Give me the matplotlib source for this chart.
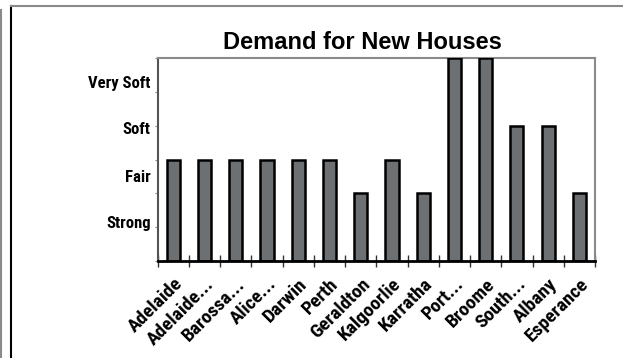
import matplotlib
matplotlib.use('Agg')
import matplotlib.pyplot as plt
import numpy as np
from matplotlib.lines import Line2D
from matplotlib.ticker import FixedLocator

# --- Chart data ---
towns = ["Adelaide", "Adelaide...", "Barossa...", "Alice...", "Darwin", "Perth",
         "Geraldton", "Kalgoorlie", "Karratha", "Port...", "Broome", "South...",
         "Albany", "Esperance"]
demand = [3, 3, 3, 3, 3, 3, 2, 3, 2, 6, 6, 4, 4, 2]
rating_labels = ["Strong", "Fair", "Soft", "Very Soft"]

# Excel spreads the rating labels evenly over the axis, not on the gridline ticks
label_pos = [1.16, 2.53, 3.94, 5.29]

plt.rcParams['font.family'] = ['Roboto Condensed', 'DejaVu Sans']

fig = plt.figure(figsize=(6.23, 3.58), dpi=100)
ax = fig.add_axes([0.2531, 0.271, 0.702, 0.566])

x = np.arange(len(towns))
ax.bar(x, demand, width=0.42, color='#6d7073', edgecolor='black', linewidth=1.8, zorder=3)

ax.set_xlim(-0.5, len(towns) - 0.5)
ax.set_ylim(0, 6)

# x axis: ticks sit between categories, labels centred under bars
ax.xaxis.set_major_locator(FixedLocator(np.arange(len(towns) + 1) - 0.5))
ax.xaxis.set_minor_locator(FixedLocator(x))
ax.set_xticklabels([])
ax.set_xticklabels(towns, minor=True, rotation=45, ha='right', va='top',
                   rotation_mode='anchor', fontsize=14, fontweight='bold')
ax.tick_params(axis='x', which='major', direction='inout', length=9, width=1, color='#333333')
ax.tick_params(axis='x', which='minor', length=0, pad=10)

# y axis: tiny gridline ticks + floating rating labels
ax.yaxis.set_minor_locator(FixedLocator(np.arange(0, 7)))
ax.yaxis.set_major_locator(FixedLocator(label_pos))
ax.set_yticklabels(rating_labels, fontsize=12, fontweight='bold')
ax.tick_params(axis='y', which='major', length=0, pad=5)
ax.tick_params(axis='y', which='minor', length=2, width=0.8, color='#888888')

for side in ['top', 'right']:
    ax.spines[side].set_color('#8a8a8a')
    ax.spines[side].set_linewidth(1.5)
ax.spines['left'].set_color('#555555')
ax.spines['left'].set_linewidth(1.5)
ax.spines['bottom'].set_color('black')
ax.spines['bottom'].set_linewidth(2)
ax.spines['bottom'].set_zorder(4)

# title measures like plain Arial bold, so Liberation Sans here; sits a bit left of centre
ax.set_title('Demand for New Houses', fontsize=17, fontweight='bold', pad=7, x=0.468,
             family=['Liberation Sans', 'DejaVu Sans'])

# outer frame lines of the original page
fig.add_artist(Line2D([10.5 / 623, 10.5 / 623], [0, 1 - 5.5 / 358], color='black', linewidth=1.5))
fig.add_artist(Line2D([10.5 / 623, 1], [1 - 5.5 / 358, 1 - 5.5 / 358], color='#8a8a8a', linewidth=1.5))
fig.add_artist(Line2D([0.5 / 623, 0.5 / 623], [0, 1 - 10 / 358], color='#8a8a8a', linewidth=1.5))

fig.savefig('out.png', dpi=100)
